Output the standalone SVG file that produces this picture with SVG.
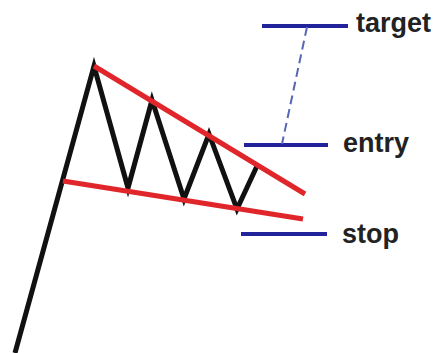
<svg xmlns="http://www.w3.org/2000/svg" width="440" height="353" viewBox="0 0 440 353">
<style>
.blk{fill:none;stroke:#111;stroke-width:5;stroke-linejoin:miter;stroke-linecap:butt}
.red{fill:none;stroke:#e0262a;stroke-width:5;stroke-linecap:butt}
.blue{fill:none;stroke:#22229a;stroke-width:4}
.dash{fill:none;stroke:#5866b4;stroke-width:2;stroke-dasharray:9 5}
.lbl{font-family:"Liberation Sans",Arial,sans-serif;font-weight:bold;font-size:27px;fill:#222}
</style>
<rect width="440" height="353" fill="#fff"/>
<g id="price">
<polyline class="blk" points="15,353 94,66 128,188 152,100 184,199 209,134 237,209 257,166"/>
</g>
<g id="resistance">
<line class="red" x1="94" y1="66" x2="305" y2="194"/>
</g>
<g id="support">
<line class="red" x1="63" y1="181" x2="303" y2="219"/>
</g>
<g id="target">
<line class="blue" x1="262" y1="26" x2="348" y2="26"/>
<text class="lbl" x="356" y="32">target</text>
</g>
<g id="entry">
<line class="blue" x1="244" y1="145" x2="328" y2="145"/>
<text class="lbl" x="343" y="152">entry</text>
</g>
<g id="stop">
<line class="blue" x1="241" y1="234" x2="327" y2="234"/>
<text class="lbl" x="342" y="243">stop</text>
</g>
<g id="connectors">
<line class="dash" x1="307" y1="27" x2="282" y2="144"/>
</g>
</svg>
